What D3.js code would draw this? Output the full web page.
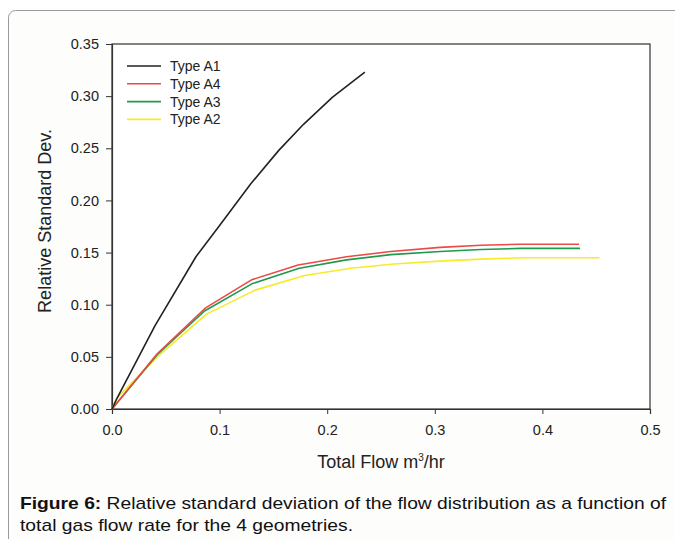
<!DOCTYPE html>
<html>
<head>
<meta charset="utf-8">
<script src="https://cdn.jsdelivr.net/npm/d3@7"></script>
<style>
  body { margin: 0; background: #fff; }
  svg { font-family: "Liberation Sans", Arial, sans-serif; }
</style>
</head>
<body>
<div id="chart"></div>
<script>
// data
var seriesNames = ["Type A1", "Type A4", "Type A3", "Type A2"];
var seriesColors = ["#222222", "#ec4a45", "#1d9a4c", "#f7ea2a"];

var flowA1 = [0, 0.005, 0.04, 0.078, 0.100, 0.129, 0.155, 0.178, 0.205, 0.235];
var rsdA1  = [0, 0.011, 0.080, 0.146, 0.176, 0.216, 0.248, 0.273, 0.299, 0.323];

var flowA4 = [0, 0.042, 0.087, 0.130, 0.173, 0.218, 0.259, 0.305, 0.343, 0.380, 0.434];
var rsdA4  = [0, 0.053, 0.097, 0.124, 0.138, 0.146, 0.151, 0.155, 0.157, 0.158, 0.158];

var flowA3 = [0, 0.042, 0.086, 0.130, 0.174, 0.218, 0.259, 0.305, 0.343, 0.380, 0.435];
var rsdA3  = [0, 0.052, 0.094, 0.120, 0.135, 0.143, 0.148, 0.151, 0.153, 0.154, 0.154];

var flowA2 = [0, 0.004, 0.042, 0.088, 0.133, 0.179, 0.222, 0.262, 0.308, 0.349, 0.386, 0.429, 0.453];
var rsdA2  = [0, 0.010, 0.050, 0.091, 0.114, 0.128, 0.135, 0.139, 0.142, 0.144, 0.145, 0.145, 0.145];

var xTicks = [0, 0.1, 0.2, 0.3, 0.4, 0.5];
var yTicks = [0, 0.05, 0.10, 0.15, 0.20, 0.25, 0.30, 0.35];

function drawChart(){
    var W = 675, H = 539;
    var margin = {top: 44, right: 25, bottom: 131, left: 112},
        width = 650 - margin.left,
        height = 409 - margin.top;

    var root = d3.select("#chart")
      .append("svg")
        .attr("width", W)
        .attr("height", H);

    // outer frame of the figure panel
    root.append("rect")
        .attr("x", 8.5).attr("y", 10.5)
        .attr("width", 700).attr("height", 600)
        .attr("rx", 7)
        .attr("fill", "#fdfdfc")
        .attr("stroke", "#9a9a9a");

    var svg = root.append("g")
        .attr("transform", "translate(" + margin.left + "," + margin.top + ")");

    var x = d3.scaleLinear().domain([0, 0.5]).range([0, width]);
    var y = d3.scaleLinear().domain([0, 0.35]).range([height, 0]);

    // plot box
    svg.append("rect")
        .attr("width", width).attr("height", height)
        .attr("fill", "#fff")
        .attr("stroke", "#333").attr("stroke-width", 1.2);

    var xAxis = svg.append("g")
        .attr("transform", "translate(0," + height + ")")
        .call(d3.axisBottom(x).tickValues(xTicks).tickFormat(d3.format(".1f")).tickSizeOuter(0).tickSize(5).tickPadding(11));

    var yAxis = svg.append("g")
        .call(d3.axisLeft(y).tickValues(yTicks).tickFormat(d3.format(".2f")).tickSizeOuter(0).tickSize(6).tickPadding(7));

    [xAxis, yAxis].forEach(function(a){
        a.select(".domain").attr("stroke", "#333").attr("stroke-width", 1.2);
        a.selectAll(".tick line").attr("stroke", "#333");
        a.selectAll("text").attr("fill", "#222").style("font-size", "14.5px")
          .style("font-family", "'Liberation Sans', Arial, sans-serif");
    });

    // series lines
    var flows = [flowA1, flowA4, flowA3, flowA2];
    var rsds = [rsdA1, rsdA4, rsdA3, rsdA2];
    var line = d3.line()
        .x(function(d) { return x(d[0]); })
        .y(function(d) { return y(d[1]); });

    // draw A2 first so others sit on top like the original
    [3, 2, 1, 0].forEach(function(i){
        var pts = flows[i].map(function(f, j){ return [f, rsds[i][j]]; });
        svg.append("path")
            .datum(pts)
            .attr("d", line)
            .attr("fill", "none")
            .attr("stroke", seriesColors[i])
            .attr("stroke-width", 1.6)
            .attr("stroke-linejoin", "round");
    });

    // legend
    var legend = svg.append("g").attr("transform", "translate(15,22)");
    seriesNames.forEach(function(name, i){
        var g = legend.append("g").attr("transform", "translate(0," + (i * 17.8) + ")");
        g.append("line")
            .attr("x1", 0).attr("x2", 34)
            .attr("stroke", seriesColors[i]).attr("stroke-width", 1.6);
        g.append("text")
            .attr("x", 43).attr("y", 5)
            .style("font-size", "14px")
            .attr("fill", "#222")
            .text(name);
    });

    // axis titles
    var xt = root.append("text")
        .attr("x", margin.left + width / 2)
        .attr("y", 468)
        .attr("text-anchor", "middle")
        .style("font-size", "18px")
        .attr("fill", "#222");
    xt.append("tspan").text("Total Flow m");
    xt.append("tspan").attr("dy", -7).style("font-size", "10px").text("3");
    xt.append("tspan").attr("dy", 7).text("/hr");

    root.append("text")
        .attr("transform", "translate(51," + 221 + ")rotate(-90)")
        .attr("text-anchor", "middle")
        .style("font-size", "18px")
        .attr("fill", "#222")
        .text("Relative Standard Dev.");

    // caption
    var cap = root.append("text")
        .attr("x", 20).attr("y", 509)
        .attr("textLength", 646)
        .attr("lengthAdjust", "spacingAndGlyphs")
        .style("font-size", "17px")
        .attr("fill", "#111");
    cap.append("tspan").style("font-weight", "bold").text("Figure 6:");
    cap.append("tspan").text(" Relative standard deviation of the flow distribution as a function of");
    root.append("text")
        .attr("x", 20).attr("y", 531)
        .attr("textLength", 333)
        .attr("lengthAdjust", "spacingAndGlyphs")
        .style("font-size", "17px")
        .attr("fill", "#111")
        .text("total gas flow rate for the 4 geometries.");
}

drawChart();
</script>
</body>
</html>
